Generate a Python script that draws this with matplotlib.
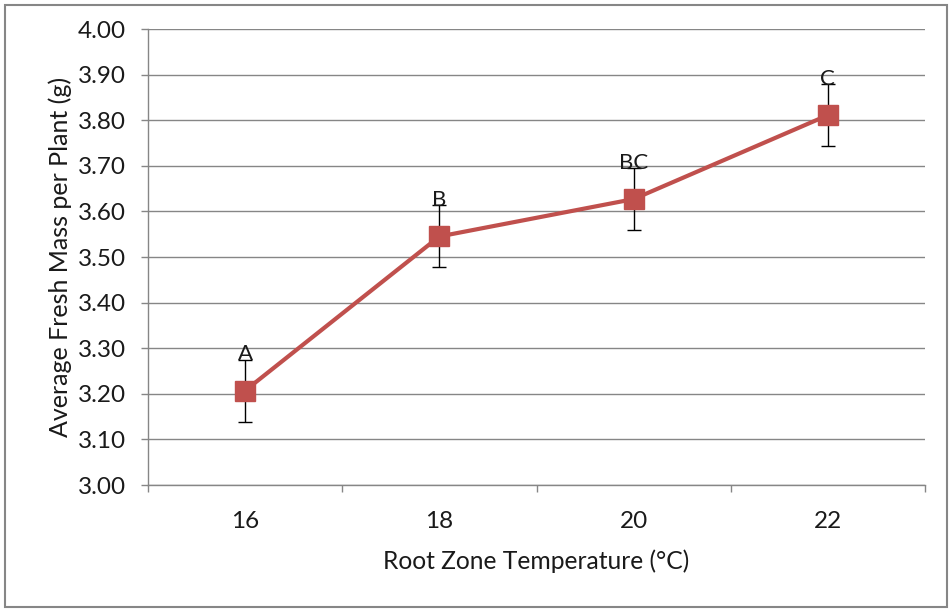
import matplotlib
matplotlib.use("Agg")
import matplotlib.pyplot as plt
from matplotlib.patches import Rectangle

categories = ["16", "18", "20", "22"]
fresh_mass = [3.207, 3.545, 3.627, 3.811]
errors = [0.068, 0.068, 0.068, 0.068]
letters = ["A", "B", "BC", "C"]
y_ticks = [3.00, 3.10, 3.20, 3.30, 3.40, 3.50, 3.60, 3.70, 3.80, 3.90, 4.00]

plt.rcParams['font.family'] = ['Lato', 'DejaVu Sans']

fig = plt.figure(figsize=(9.52, 6.12), dpi=100)
ax = fig.add_axes([148/952, 1-485/612, (925-148)/952, (485-29)/612])

x = list(range(len(categories)))
ax.errorbar(x, fresh_mass, yerr=errors, fmt='none', ecolor='black', elinewidth=1,
            capsize=5, capthick=1, zorder=3)
ax.plot(x, fresh_mass, color='#C0504D', lw=3, marker='s', markersize=15,
        markerfacecolor='#C0504D', markeredgecolor='#C0504D', zorder=4)

for xi, v, e, t in zip(x, fresh_mass, errors, letters):
    ax.text(xi, v + e + 0.012, t, ha='center', va='center', fontsize=16,
            color='#1a1a1a', zorder=5)

ax.set_xlim(-0.5, len(categories) - 0.5)
ax.set_ylim(3.0, 4.0)
ax.set_yticks(y_ticks)
ax.set_yticklabels([f"{t:.2f}" for t in y_ticks])
ax.set_xticks(x)
ax.set_xticklabels(categories)
ax.set_xticks([i - 0.5 for i in range(len(categories) + 1)], minor=True)
ax.tick_params(axis='x', which='major', length=0, pad=19, labelsize=17.5,
               labelcolor='#1a1a1a')
ax.tick_params(axis='x', which='minor', length=5, color='#868686', width=1)
ax.tick_params(axis='y', which='major', length=5, color='#868686', width=1,
               labelsize=17.5, pad=11, labelcolor='#1a1a1a')

ax.yaxis.grid(True, color='#868686', lw=1)
ax.set_axisbelow(True)
for s in ['top', 'right']:
    ax.spines[s].set_visible(False)
for s in ['left', 'bottom']:
    ax.spines[s].set_color('#868686')
    ax.spines[s].set_linewidth(1)

ax.set_xlabel("Root Zone Temperature (°C)", fontsize=17.7, labelpad=12, color='#1a1a1a')
ax.set_ylabel("Average Fresh Mass per Plant (g)", fontsize=18, labelpad=4, color='#1a1a1a')

fig.patches.append(Rectangle((5/952, 5/612), 942/952, 602/612, transform=fig.transFigure,
                             fill=False, edgecolor='#868686', lw=1.5))

fig.savefig("out.png", dpi=100)
